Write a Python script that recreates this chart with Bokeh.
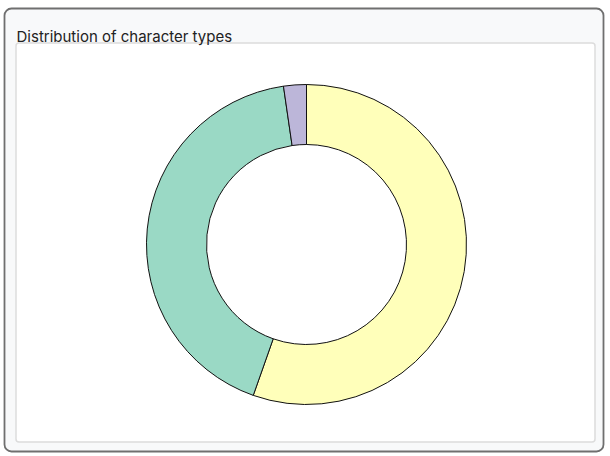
import math
from bokeh.plotting import figure
from bokeh.models import Range1d, BoxAnnotation, ColumnDataSource, Label
from bokeh.embed import file_html
from bokeh.resources import INLINE

# Data
categories = ["Letters", "Digits", "Symbols"]
shares = [55.4, 42.3, 2.3]
colors = ["#ffffba", "#9ad9c5", "#bcb6d9"]
title_text = "Distribution of character types"

W, H = 610, 456
p = figure(width=W, height=H, output_backend="svg", toolbar_location=None,
           x_range=Range1d(0, W), y_range=Range1d(0, H),
           min_border=0, min_border_left=0, min_border_right=0,
           min_border_top=0, min_border_bottom=0)
p.axis.visible = False
p.grid.visible = False
p.outline_line_color = None
p.background_fill_color = "white"
p.border_fill_color = "white"

# card (screen coords: x 4..603, y 8..451)
card = BoxAnnotation(left=4, right=603, bottom=H - 451, top=H - 8,
                     fill_color="#f8f9fa", fill_alpha=1.0,
                     line_color="#6f6f6f", line_alpha=1.0, line_width=1.8,
                     border_radius=7, level="underlay")
p.add_layout(card)
panel = BoxAnnotation(left=15.5, right=594.5, bottom=H - 441.5, top=H - 42.5,
                      fill_color="white", fill_alpha=1.0,
                      line_color="#dcdcdc", line_alpha=1.0, line_width=1.5,
                      border_radius=3, level="underlay")
p.add_layout(panel)

p.add_layout(Label(x=16, y=H - 36, text=title_text, text_font="Inter",
                   text_font_size="15px", text_color="#222222",
                   text_baseline="alphabetic"))

total = sum(shares)
starts, ends = [], []
acc = 0.0
for s in shares:
    a0 = math.pi / 2 - 2 * math.pi * acc / total
    acc += s
    a1 = math.pi / 2 - 2 * math.pi * acc / total
    starts.append(a0)
    ends.append(a1)

src = ColumnDataSource(dict(cat=categories, share=shares, color=colors,
                            start=starts, end=ends))
p.annular_wedge(x=306, y=H - 244, inner_radius=100, outer_radius=160,
                start_angle="end", end_angle="start", direction="anticlock",
                fill_color="color", line_color="#111111", line_width=1,
                source=src)

open("out.html", "w").write(file_html(p, INLINE))
